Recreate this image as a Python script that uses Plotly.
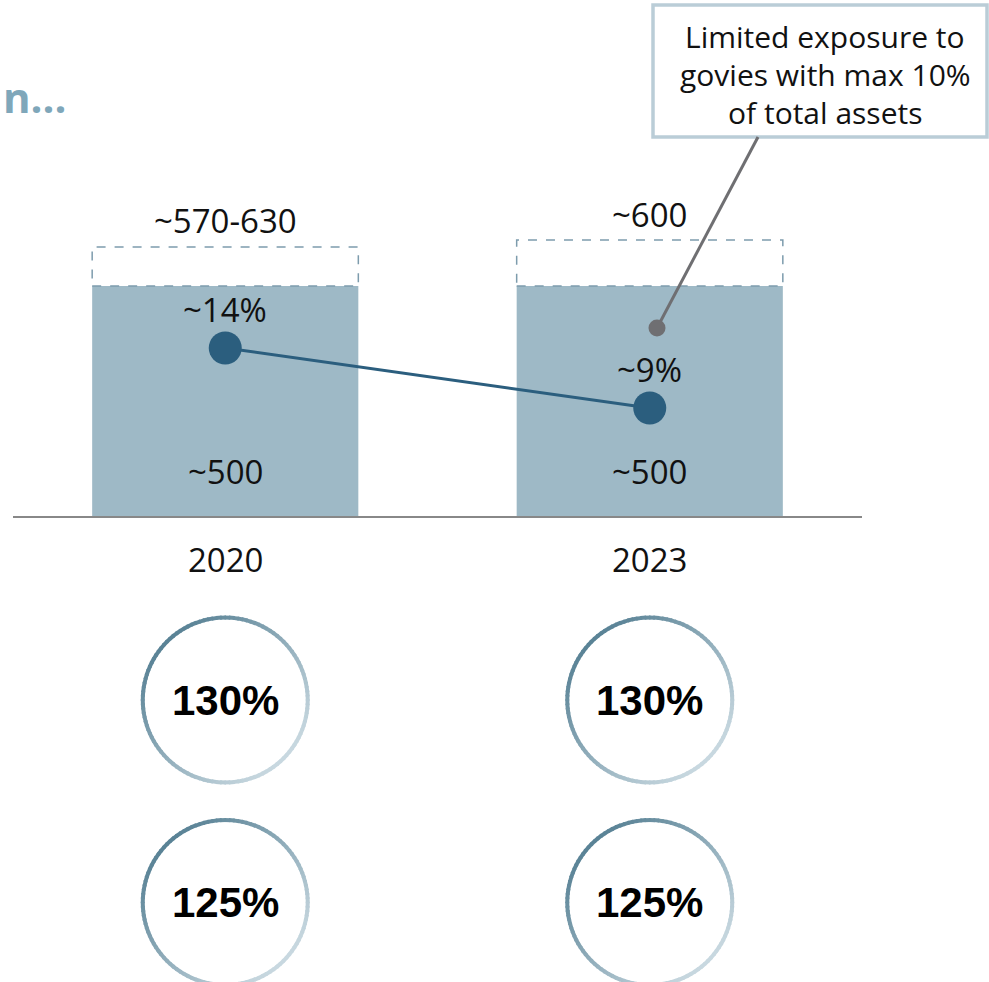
import math
import plotly.graph_objects as go

# ---------------- data ----------------
years = ["2020", "2023"]
base_values = [500, 500]            # solid bar (~500)
upper_values = [585, 600]           # dashed range top as drawn
upper_labels = ["~570-630", "~600"]
base_labels = ["~500", "~500"]
share_values = [14, 9]              # govies share, %
share_labels = ["~14%", "~9%"]
row1_labels = ["130%", "130%"]
row2_labels = ["125%", "125%"]
callout_lines = ["Limited exposure to", "govies with max 10%", "of total assets"]
title_fragment = "n..."

# ---------------- style ----------------
W, H = 989, 982
BASE_PX = 516                # baseline pixel row
Y_PX_PER_UNIT = 0.46
Y2_PX_PER_UNIT = 12.0
BAR_W = 0.627
BAR_COLOR = "#9eb9c6"
LINE_COLOR = "#2b5e7e"
LABEL_FONT = dict(family="Open Sans, DejaVu Sans, sans-serif", size=33, color="#111111")

idx = list(range(len(years)))

fig = go.Figure()
fig.add_trace(go.Bar(
    x=idx, y=base_values, width=BAR_W, marker=dict(color=BAR_COLOR, line=dict(width=0)),
    hoverinfo="skip", yaxis="y"))
fig.add_trace(go.Scatter(
    x=idx, y=share_values, mode="lines+markers", yaxis="y2",
    line=dict(color=LINE_COLOR, width=3),
    marker=dict(color=LINE_COLOR, size=33), hoverinfo="skip"))

shapes = []
annotations = []

# dashed range boxes on top of bars
for i, b, u in zip(idx, base_values, upper_values):
    shapes.append(dict(type="rect", xref="x", yref="y", x0=i - BAR_W / 2, x1=i + BAR_W / 2,
                       y0=b, y1=u, line=dict(color="#7d9cad", width=1.5, dash="dash"),
                       fillcolor="rgba(255,255,255,0)"))

for i, u, t in zip(idx, upper_values, upper_labels):
    annotations.append(dict(x=i, y=u, xref="x", yref="y", text=t, showarrow=False,
                            xanchor="center", yanchor="middle", yshift=26, font=LABEL_FONT))
for i, t in zip(idx, base_labels):
    annotations.append(dict(x=i, y=0, xref="x", yref="y", text=t, showarrow=False,
                            xanchor="center", yanchor="middle", yshift=45, font=LABEL_FONT))
for i, v, t in zip(idx, share_values, share_labels):
    annotations.append(dict(x=i, y=v, xref="x", yref="y2", text=t, showarrow=False,
                            xanchor="center", yanchor="middle", yshift=39, font=LABEL_FONT))
for i, t in zip(idx, years):
    annotations.append(dict(x=i, y=0, xref="x", yref="y", text=t, showarrow=False,
                            xanchor="center", yanchor="middle", yshift=-43, font=LABEL_FONT))

# gradient-ring circles with KPI values
R = 82.5
STROKE = 4
DARK = (90, 131, 150)
LIGHT = (200, 216, 224)
N = 120


def ring(i, ypaper):
    for k in range(N):
        a0 = 2 * math.pi * k / N
        a1 = 2 * math.pi * (k + 1) / N
        am = (a0 + a1) / 2
        proj = (math.cos(am) - math.sin(am)) / math.sqrt(2)
        t = (proj + 1) / 2
        c = tuple(int(round(DARK[j] + (LIGHT[j] - DARK[j]) * t)) for j in range(3))
        p = "M {:.2f},{:.2f} L {:.2f},{:.2f}".format(
            R * math.cos(a0 - 0.01), R * math.sin(a0 - 0.01),
            R * math.cos(a1 + 0.01), R * math.sin(a1 + 0.01))
        shapes.append(dict(type="path", xref="x", yref="paper", xsizemode="pixel",
                           ysizemode="pixel", xanchor=i, yanchor=ypaper, path=p,
                           line=dict(color="rgb({},{},{})".format(*c), width=STROKE)))


row_y = [(H - 700) / H, (H - 902.5) / H]
for labels, yp in zip([row1_labels, row2_labels], row_y):
    for i, t in zip(idx, labels):
        ring(i, yp)
        annotations.append(dict(x=i, y=yp, xref="x", yref="paper", text="<b>" + t + "</b>",
                                showarrow=False, xanchor="center", yanchor="middle",
                                font=dict(family="Liberation Sans, Arial, sans-serif",
                                          size=42, color="#000000")))

# callout box with leader line
shapes.append(dict(type="rect", xref="paper", yref="paper", x0=653 / W, x1=987 / W,
                   y0=1 - 137 / H, y1=1 - 5 / H, line=dict(color="#bacdd7", width=3.5),
                   fillcolor="white"))
for k, t in enumerate(callout_lines):
    annotations.append(dict(x=825 / W, y=1 - (37 + 37.5 * k) / H, xref="paper", yref="paper",
                            text=t, showarrow=False, xanchor="center", yanchor="middle",
                            font=dict(family="Open Sans, DejaVu Sans, sans-serif", size=30,
                                      color="#111111")))
shapes.append(dict(type="line", xref="paper", yref="paper", x0=758 / W, y0=1 - 137 / H,
                   x1=657 / W, y1=1 - 328 / H, line=dict(color="#6f6f72", width=3)))
shapes.append(dict(type="circle", xref="paper", yref="paper", x0=(657 - 8.5) / W, x1=(657 + 8.5) / W,
                   y0=1 - (328 + 8.5) / H, y1=1 - (328 - 8.5) / H,
                   line=dict(width=0), fillcolor="#6f6f72"))

# truncated slide title fragment (kept fully visible)
annotations.append(dict(x=1 / W, y=1 - 96 / H, xref="paper", yref="paper",
                        text="<b>" + title_fragment + "</b>",
                        showarrow=False, xanchor="left", yanchor="middle",
                        font=dict(family="Open Sans, DejaVu Sans, sans-serif", size=42,
                                  color="#7fa7ba")))

ydom0 = (H - BASE_PX) / H
fig.update_layout(
    width=W, height=H, margin=dict(l=0, r=0, t=0, b=0),
    paper_bgcolor="white", plot_bgcolor="white", showlegend=False,
    xaxis=dict(domain=[13 / W, 862 / W], range=[-0.5, 1.5], showline=True,
               linecolor="#888888", linewidth=2, showticklabels=False, showgrid=False,
               zeroline=False, ticks=""),
    yaxis=dict(domain=[ydom0, 1], range=[0, BASE_PX / Y_PX_PER_UNIT], visible=False),
    yaxis2=dict(domain=[ydom0, 1], range=[0, BASE_PX / Y2_PX_PER_UNIT], overlaying="y",
                visible=False),
    shapes=shapes, annotations=annotations,
)

fig.write_html("out.html")
